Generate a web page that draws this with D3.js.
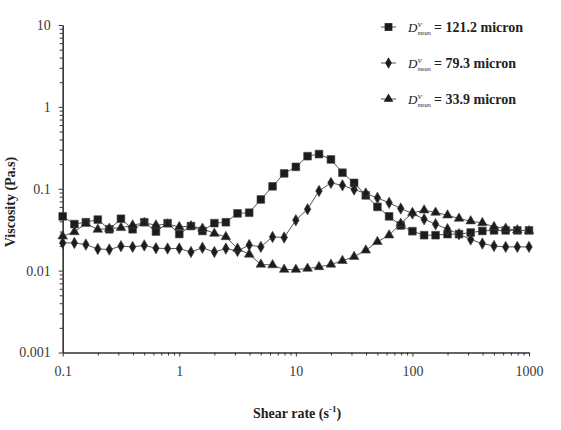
<!DOCTYPE html>
<html>
<head>
<meta charset="utf-8">
<script src="https://cdn.jsdelivr.net/npm/d3@7"></script>
<style>
  body { margin: 0; background: #fff; }
  svg { display: block; }
  .tick text { font-family: "Liberation Serif", "Times New Roman", serif; fill: #3a3a3a; }
  .domain, .tick line { stroke: #333; }
</style>
</head>
<body>
<div id="plot"></div>
<script>
// shear rate points (s^-1), 10 per decade
const shearRate = [
  0.1, 0.126, 0.158, 0.2, 0.251, 0.316, 0.398, 0.501, 0.631, 0.794,
  1, 1.26, 1.58, 2, 2.51, 3.16, 3.98, 5.01, 6.31, 7.94,
  10, 12.6, 15.8, 20, 25.1, 31.6, 39.8, 50.1, 63.1, 79.4,
  100, 126, 158, 200, 251, 316, 398, 501, 631, 794, 1000
];

// viscosity (Pa.s)
const visc121 = [
  0.046, 0.037, 0.039, 0.042, 0.032, 0.043, 0.032, 0.039, 0.030, 0.038,
  0.028, 0.035, 0.0305, 0.038, 0.039, 0.050, 0.051, 0.074, 0.107, 0.154,
  0.185, 0.25, 0.265, 0.228, 0.157, 0.118, 0.083, 0.060, 0.046, 0.0356,
  0.0303, 0.0271, 0.0271, 0.0279, 0.0279, 0.0292, 0.0305, 0.031, 0.031, 0.031, 0.031
];
const visc79 = [
  0.0218, 0.0218, 0.0208, 0.0184, 0.0181, 0.0199, 0.0195, 0.0203, 0.0188, 0.0186,
  0.0186, 0.0169, 0.019, 0.0169, 0.0186, 0.0174, 0.0205, 0.0195, 0.0258, 0.0254,
  0.0413, 0.0563, 0.094, 0.118, 0.110, 0.098, 0.0875, 0.0774, 0.0673, 0.0574,
  0.0499, 0.0425, 0.0369, 0.0321, 0.0279, 0.024, 0.0214, 0.020, 0.0195, 0.0195, 0.0195
];
const visc34 = [
  0.0263, 0.0297, 0.0376, 0.0318, 0.0327, 0.0333, 0.0359, 0.0383, 0.0359, 0.0369,
  0.0342, 0.035, 0.0327, 0.0284, 0.0258, 0.0186, 0.0158, 0.0119, 0.0117, 0.0103,
  0.0103, 0.0106, 0.0111, 0.0119, 0.0132, 0.0148, 0.0177, 0.0225, 0.0271, 0.0376,
  0.0507, 0.0547, 0.0513, 0.0475, 0.0433, 0.0402, 0.0383, 0.0342, 0.0327, 0.0312, 0.0305
];

const seriesNames = ["121.2", "79.3", "33.9"];
const seriesSymbols = [d3.symbolSquare, d3.symbolDiamond, d3.symbolTriangle];
const seriesSizes = [60, 38, 40];

const xMajor = [0.1, 1, 10, 100, 1000];
const xMajorLabels = ["0.1", "1", "10", "100", "1000"];
const yMajor = [0.001, 0.01, 0.1, 1, 10];
const yMajorLabels = ["0.001", "0.01", "0.1", "1", "10"];

const W = 561, H = 430;
const margin = { left: 62.7, right: 529, top: 25, bottom: 352.5 };

const svg = d3.select("#plot").append("svg")
  .attr("width", W).attr("height", H);

const x = d3.scaleLog().domain([0.1, 1000]).range([margin.left, margin.right]);
const y = d3.scaleLog().domain([0.001, 10]).range([margin.bottom, margin.top]);

// minor tick values 2..9 in each decade
function minors(lo, hi) {
  const out = [];
  for (let e = lo; e < hi; e++) for (let k = 2; k <= 9; k++) out.push(k * Math.pow(10, e));
  return out;
}

// x axis
svg.append("g")
  .attr("transform", `translate(0,${margin.bottom})`)
  .call(d3.axisBottom(x).tickValues(minors(-1, 3)).tickSize(3).tickSizeOuter(0).tickFormat(""));
svg.append("g")
  .attr("transform", `translate(0,${margin.bottom})`)
  .call(d3.axisBottom(x).tickValues(xMajor).tickSize(4).tickSizeOuter(0).tickPadding(10)
    .tickFormat((d, i) => xMajorLabels[i]))
  .call(g => g.selectAll("text").attr("font-size", 14));

// y axis
svg.append("g")
  .attr("transform", `translate(${margin.left},0)`)
  .call(d3.axisLeft(y).tickValues(minors(-3, 1)).tickSize(3).tickSizeOuter(0).tickFormat(""));
svg.append("g")
  .attr("transform", `translate(${margin.left},0)`)
  .call(d3.axisLeft(y).tickValues(yMajor).tickSize(4).tickSizeOuter(0).tickPadding(8)
    .tickFormat((d, i) => yMajorLabels[i]))
  .call(g => g.selectAll("text").attr("font-size", 14));

svg.selectAll(".domain").attr("stroke-width", 1.2);

// axis titles
const xTitle = svg.append("text")
  .attr("x", 297).attr("y", 418)
  .attr("text-anchor", "middle")
  .attr("font-family", "Liberation Serif, serif").attr("font-weight", "bold")
  .attr("font-size", 14).attr("fill", "#222");
xTitle.append("tspan").text("Shear rate (s");
xTitle.append("tspan").attr("dy", -6).attr("font-size", 9).text("-1");
xTitle.append("tspan").attr("dy", 6).text(")");

svg.append("text")
  .attr("transform", "translate(15,202) rotate(-90)")
  .attr("text-anchor", "middle")
  .attr("font-family", "Liberation Serif, serif").attr("font-weight", "bold")
  .attr("font-size", 14).attr("fill", "#222")
  .text("Viscosity (Pa.s)");

// data lines and markers
const allSeries = [visc121, visc79, visc34];
const line = d3.line().x((d, i) => x(shearRate[i])).y(d => y(d));

allSeries.forEach((vals, s) => {
  svg.append("path")
    .attr("d", line(vals))
    .attr("fill", "none")
    .attr("stroke", "#555")
    .attr("stroke-width", 1);
  svg.append("g").selectAll("path")
    .data(vals)
    .join("path")
    .attr("transform", (d, i) => `translate(${x(shearRate[i])},${y(d)})`)
    .attr("d", d3.symbol().type(seriesSymbols[s]).size(seriesSizes[s]))
    .attr("fill", "#1c1c1c")
    .attr("stroke", "#444")
    .attr("stroke-width", 0.6);
});

// legend
const legendY = [27, 63, 99];
seriesNames.forEach((name, s) => {
  const g = svg.append("g").attr("transform", `translate(0,${legendY[s]})`);
  g.append("line").attr("x1", 381).attr("x2", 396).attr("stroke", "#555");
  g.append("path")
    .attr("transform", "translate(388.5,0)")
    .attr("d", d3.symbol().type(seriesSymbols[s]).size(seriesSizes[s]))
    .attr("fill", "#1c1c1c");
  const t = g.append("text")
    .attr("x", 408).attr("y", 5)
    .attr("font-family", "Liberation Serif, serif")
    .attr("font-size", 14).attr("fill", "#222");
  t.append("tspan").attr("font-style", "italic").attr("font-size", 13).text("D");
  t.append("tspan").attr("font-style", "italic").attr("font-size", 7).attr("dy", -5).text("V");
  t.append("tspan").attr("font-style", "italic").attr("font-size", 6).attr("dx", -4).attr("dy", 8).text("mean");
  t.append("tspan").attr("x", 434).attr("dy", -3).attr("font-weight", "bold").text("= " + name + " micron");
});
</script>
</body>
</html>
